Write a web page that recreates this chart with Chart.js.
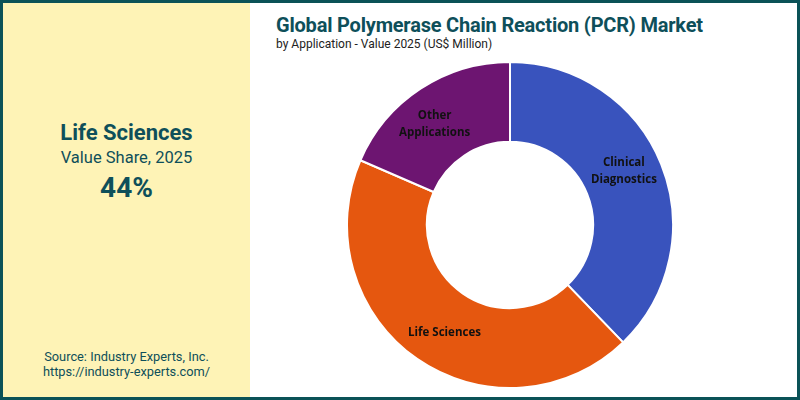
<!DOCTYPE html>
<html>
<head>
<meta charset="utf-8">
<script src="https://cdn.jsdelivr.net/npm/chart.js@4"></script>
<style>
  html, body { margin: 0; padding: 0; }
  body { width: 800px; height: 400px; position: relative; overflow: hidden; background: #fff; font-family: Roboto, "Open Sans", sans-serif; }
  .frame { position: absolute; left: 0; top: 0; width: 794px; height: 394px; border: 3px solid #0b5257; }
  .side { position: absolute; left: 3px; top: 3px; width: 247px; height: 394px; background: #fef3b6; color: #0e4f5a; text-align: center; }
  .side .big { position: absolute; top: 117px; width: 100%; font-size: 22px; font-weight: 700; }
  .side .sub { position: absolute; top: 145px; width: 100%; font-size: 16.5px; }
  .side .pct { position: absolute; top: 168px; width: 100%; font-size: 28px; font-weight: 700; }
  .side .src { position: absolute; top: 346px; width: 100%; font-size: 12.8px; line-height: 15px; }
  .title { position: absolute; left: 276px; top: 13px; font-size: 20px; font-weight: 700; color: #0e4f5a; letter-spacing: -0.2px; }
  .subtitle { position: absolute; left: 276px; top: 37px; font-size: 12px; color: #222; }
  .chart { position: absolute; left: 346px; top: 61px; width: 328px; height: 328px; }
</style>
</head>
<body>
<div class="side">
  <div class="big">Life Sciences</div>
  <div class="sub">Value Share, 2025</div>
  <div class="pct">44%</div>
  <div class="src">Source: Industry Experts, Inc.<br>https://industry-experts.com/</div>
</div>
<div class="frame"></div>
<div class="title">Global Polymerase Chain Reaction (PCR) Market</div>
<div class="subtitle">by Application - Value 2025 (US$ Million)</div>
<div class="chart"><canvas id="donut"></canvas></div>
<script>
// value shares, clockwise from 12 o'clock
const labels = ['Clinical Diagnostics', 'Life Sciences', 'Other Applications'];
const labelLines = [['Clinical', 'Diagnostics'], ['Life Sciences'], ['Other', 'Applications']];
const shares = [37.8, 43.7, 18.5];
const colors = ['#3953bd', '#e5570f', '#6d1571'];

// draw slice names at the middle of each arc
const sliceLabels = {
  id: 'sliceLabels',
  afterDatasetsDraw(chart) {
    const ctx = chart.ctx;
    const meta = chart.getDatasetMeta(0);
    ctx.save();
    ctx.font = 'bold 11.5px "Open Sans", "Liberation Sans", sans-serif';
    ctx.fillStyle = '#111';
    ctx.textAlign = 'center';
    ctx.textBaseline = 'middle';
    meta.data.forEach((arc, i) => {
      const p = arc.getProps(['x', 'y', 'startAngle', 'endAngle', 'innerRadius', 'outerRadius'], true);
      const a = (p.startAngle + p.endAngle) / 2 - 0.06;
      const r = (p.innerRadius + p.outerRadius) / 2 + 3;
      const cx = p.x + Math.cos(a) * r;
      const cy = p.y + Math.sin(a) * r;
      const lines = labelLines[i];
      lines.forEach((t, j) => {
        ctx.fillText(t, cx, cy + (j - (lines.length - 1) / 2) * 17);
      });
    });
    ctx.restore();
  }
};

new Chart(document.getElementById('donut').getContext('2d'), {
  type: 'doughnut',
  data: {
    labels: labels,
    datasets: [{ data: shares, backgroundColor: colors, borderColor: '#fff', borderWidth: 2 }],
  },
  options: {
    responsive: true,
    maintainAspectRatio: false,
    animation: false,
    cutout: '51%',
    layout: { padding: 0 },
    plugins: { legend: { display: false }, tooltip: { enabled: false } },
  },
  plugins: [sliceLabels],
});
</script>
</body>
</html>
